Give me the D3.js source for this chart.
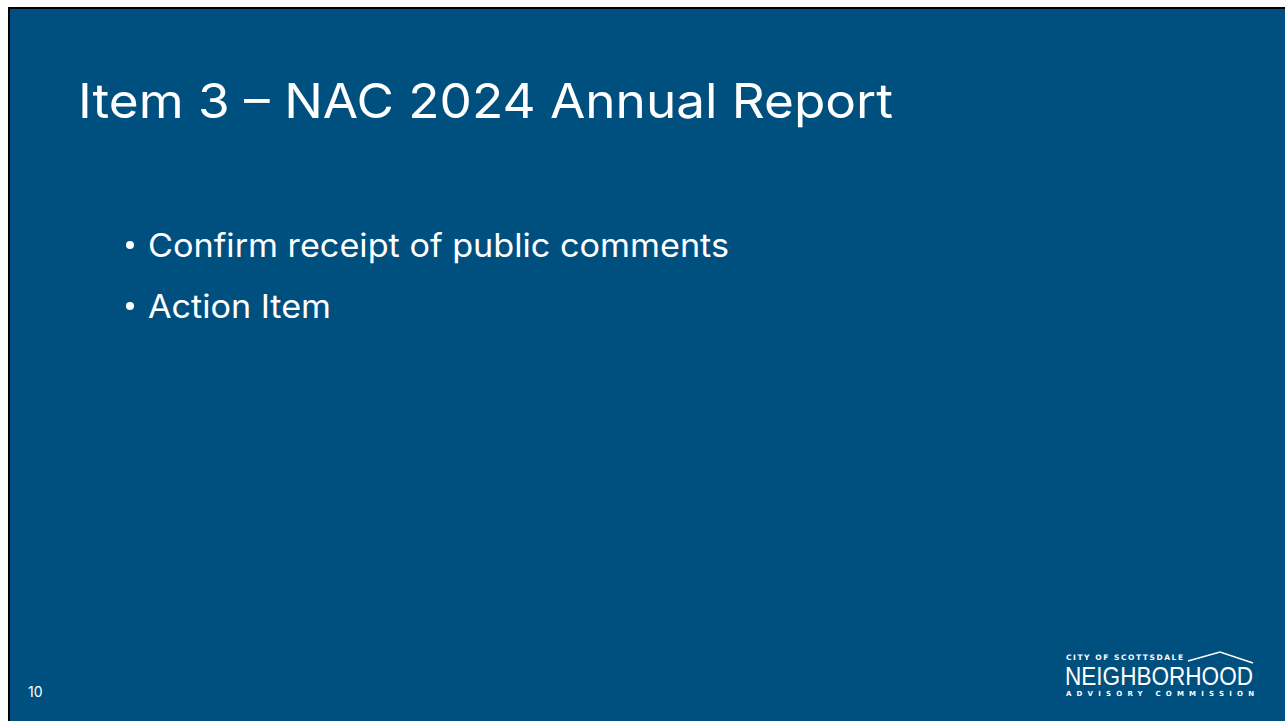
<!DOCTYPE html>
<html>
<head>
<meta charset="utf-8">
<script src="https://cdn.jsdelivr.net/npm/d3@7"></script>
<style>
  html, body { margin: 0; padding: 0; background: #fff; overflow: hidden; }
</style>
</head>
<body>
<div id="slide"></div>
<script>
// slide content
var titleText = "Item 3 \u2013 NAC 2024 Annual Report";
var bullets = ["Confirm receipt of public comments", "Action Item"];
var bulletWidths = [581, 183];
var pageNumber = "10";
var logoLines = ["CITY OF SCOTTSDALE", "NEIGHBORHOOD", "ADVISORY COMMISSION"];

function build_slide() {

    var width = 1285,
    height = 721;

    var svg = d3.select("#slide")
        .append("svg")
            .attr("width", width)
            .attr("height", height);

    // black frame + blue panel
    svg.append("rect")
        .attr("x", 8).attr("y", 7)
        .attr("width", width).attr("height", height)
        .attr("fill", "#000");
    svg.append("rect")
        .attr("x", 10).attr("y", 9)
        .attr("width", width).attr("height", height)
        .attr("fill", "#00507f");

    var font = "Inter, 'Open Sans', sans-serif";

    svg.append("text")
        .attr("x", 78).attr("y", 118)
        .attr("fill", "#fff")
        .attr("font-family", font)
        .attr("font-size", 48)
        .attr("textLength", 815)
        .attr("lengthAdjust", "spacingAndGlyphs")
        .text(titleText);

    var yScale = d3.scalePoint()
        .domain(bullets)
        .range([257, 318]);

    var rows = svg.append("g")
        .selectAll("g")
        .data(bullets)
        .enter()
        .append("g")
            .attr("transform", function(d){return "translate(0,"+yScale(d)+")";});

    rows.append("circle")
        .attr("cx", 130).attr("cy", -12)
        .attr("r", 4)
        .attr("fill", "#fff");

    rows.append("text")
        .attr("x", 148)
        .attr("fill", "#fff")
        .attr("font-family", font)
        .attr("font-size", 32)
        .attr("textLength", function(d, i){return bulletWidths[i];})
        .attr("lengthAdjust", "spacingAndGlyphs")
        .text(function(d){return d;});

    svg.append("text")
        .attr("x", 28).attr("y", 697)
        .attr("fill", "#fff")
        .attr("font-family", font)
        .attr("font-size", 14)
        .text(pageNumber);

    // logo
    var logo = svg.append("g").attr("transform", "translate(1065,0)");
    logo.append("text")
        .attr("x", 1).attr("y", 660)
        .attr("fill", "#fff")
        .attr("font-family", "'DejaVu Sans', sans-serif")
        .attr("font-weight", "bold")
        .attr("font-size", 7.5)
        .attr("textLength", 117)
        .attr("lengthAdjust", "spacing")
        .text(logoLines[0]);
    logo.append("path")
        .attr("d", "M123,661 L155,652 L188,663")
        .attr("fill", "none")
        .attr("stroke", "#fff")
        .attr("stroke-width", 1.6);
    logo.append("text")
        .attr("x", 0).attr("y", 685)
        .attr("fill", "#fff")
        .attr("font-family", "'Liberation Sans', sans-serif")
        .attr("font-size", 26)
        .attr("textLength", 188)
        .attr("lengthAdjust", "spacingAndGlyphs")
        .text(logoLines[1]);
    logo.append("text")
        .attr("x", 1).attr("y", 695.5)
        .attr("fill", "#fff")
        .attr("font-family", "'DejaVu Sans', sans-serif")
        .attr("font-weight", "bold")
        .attr("font-size", 7)
        .attr("textLength", 188)
        .attr("lengthAdjust", "spacing")
        .text(logoLines[2]);
}
build_slide()
</script>
</body>
</html>
